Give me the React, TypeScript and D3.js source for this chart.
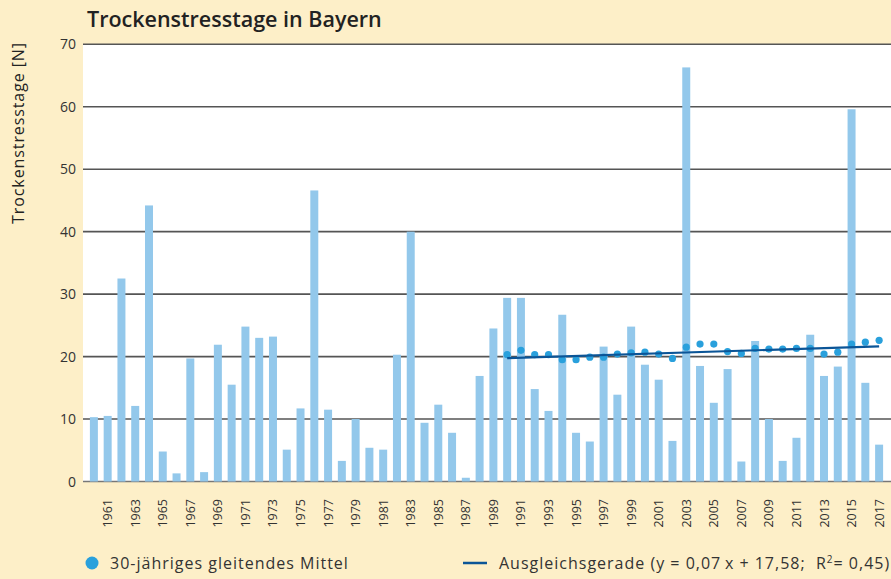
import React, { useEffect } from "react";
import * as d3 from "d3";

const years: number[] = d3.range(1960, 2018);
const values: number[] = [
  10.3, 10.5, 32.5, 12.1, 44.2, 4.8, 1.3, 19.7, 1.5, 21.9,
  15.5, 24.8, 23.0, 23.2, 5.1, 11.7, 46.6, 11.5, 3.3, 10.0,
  5.4, 5.1, 20.3, 40.0, 9.4, 12.3, 7.8, 0.6, 16.9, 24.5,
  29.4, 29.4, 14.8, 11.3, 26.7, 7.8, 6.4, 21.6, 13.9, 24.8,
  18.7, 16.3, 6.5, 66.3, 18.5, 12.6, 18.0, 3.2, 22.5, 10.0,
  3.3, 7.0, 23.5, 16.9, 18.4, 59.6, 15.8, 5.9,
];
const maYears: number[] = d3.range(1990, 2018);
const maValues: number[] = [
  20.3, 21.0, 20.3, 20.3, 19.5, 19.5, 19.9, 19.9, 20.4, 20.6,
  20.7, 20.4, 19.7, 21.5, 22.0, 22.0, 20.8, 20.5, 21.3, 21.2,
  21.2, 21.3, 21.3, 20.4, 20.7, 22.0, 22.3, 22.6,
];
const trendSlope = 0.07;
const trendIntercept = 17.58;
const trendYears: number[] = [1990, 2017];
const yTicks: number[] = [0, 10, 20, 30, 40, 50, 60, 70];
const xLabelYears: number[] = years.filter((y) => y % 2 === 1);

const W = 891;
const H = 579;
const FONT = "'Open Sans', 'Noto Sans', sans-serif";

export default function App() {
  useEffect(() => {
    document.body.style.margin = "0";
  }, []);

  const x = d3
    .scaleBand<number>()
    .domain(years)
    .range([87, 886])
    .paddingInner(0.42)
    .paddingOuter(0.21);
  const y = d3.scaleLinear().domain([0, 70]).range([481.5, 44.3]);
  const cx = (yr: number) => (x(yr) as number) + x.bandwidth() / 2;
  const trendY = (yr: number) => trendIntercept + trendSlope * (yr - 1959);

  const line = d3
    .line<number>()
    .x((d) => cx(d))
    .y((d) => y(trendY(d)));

  return (
    <svg width={W} height={H} style={{ display: "block", position: "absolute", left: 0, top: 0 }}>
      <rect x={0} y={0} width={W} height={H} fill="#fdefc8" />
      <text x={87} y={27} fontFamily={FONT} fontSize={21.5} fontWeight={600} fill="#222">
        Trockenstresstage in Bayern
      </text>
      <rect x={83} y={y(70)} width={W - 83} height={y(0) - y(70)} fill="#ffffff" />
      {yTicks.map((t) => (
        <g key={t}>
          <line x1={83} x2={W} y1={y(t)} y2={y(t)} stroke={t === 0 ? "#777" : "#555"} strokeWidth={1.6} />
          <text x={76} y={y(t) + 5} textAnchor="end" fontFamily={FONT} fontSize={14} fill="#333">
            {t}
          </text>
        </g>
      ))}
      {years.map((yr, i) => (
        <rect
          key={yr}
          x={x(yr)}
          y={y(values[i])}
          width={x.bandwidth()}
          height={y(0) - y(values[i])}
          fill="#93c8eb"
        />
      ))}
      {maYears.map((yr, i) => (
        <circle key={yr} cx={cx(yr)} cy={y(maValues[i])} r={3.6} fill="#29a0dc" />
      ))}
      <path d={line(trendYears) || ""} fill="none" stroke="#0b5597" strokeWidth={2.2} />
      {xLabelYears.map((yr) => (
        <text
          key={yr}
          transform={`translate(${cx(yr) + 4.5},499) rotate(-90)`}
          textAnchor="end"
          fontFamily={FONT}
          fontSize={12.5}
          fill="#333"
        >
          {yr}
        </text>
      ))}
      <text
        transform="translate(24,133) rotate(-90)"
        textAnchor="middle"
        fontFamily={FONT}
        fontSize={16}
        letterSpacing={0.9}
        fill="#222"
      >
        Trockenstresstage [N]
      </text>
      <circle cx={92} cy={563} r={6.5} fill="#29a0dc" />
      <text x={110} y={569} fontFamily={FONT} fontSize={16} letterSpacing={1.0} fill="#333">
        30-jähriges gleitendes Mittel
      </text>
      <line x1={463} x2={487} y1={563} y2={563} stroke="#0b5597" strokeWidth={2.5} />
      <text x={499} y={569} fontFamily={FONT} fontSize={16} letterSpacing={1.0} fill="#333">
        {"Ausgleichsgerade (y = 0,07\u2009x + 17,58;\u00a0\u00a0R"}
        <tspan dy={-6} fontSize={10}>2</tspan>
        <tspan dy={6}>= 0,45)</tspan>
      </text>
    </svg>
  );
}
